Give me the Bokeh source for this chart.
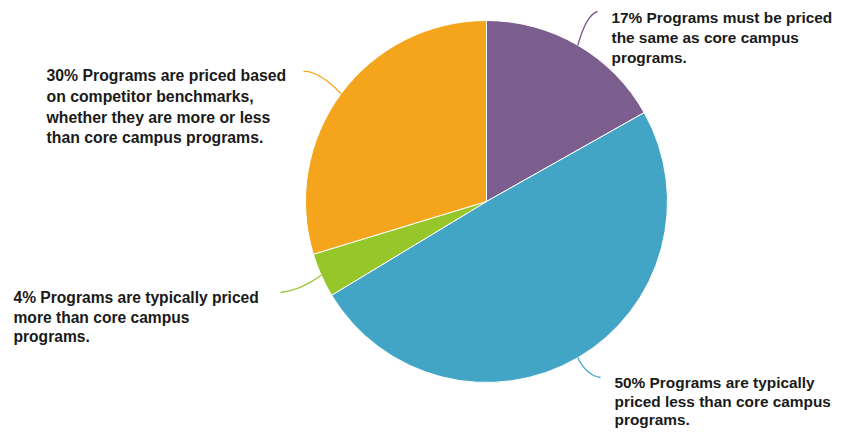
import math
from bokeh.plotting import figure
from bokeh.models import Range1d
from bokeh.core.properties import value
from bokeh.embed import file_html
from bokeh.resources import INLINE

# ---- data ----
categories = ["must be priced same", "priced less", "priced more", "competitor benchmarks"]
percents = [17, 50, 4, 30]
colors = ["#7B5E8E", "#42A5C5", "#95C72A", "#F5A51C"]
label_lines = [
    ["17% Programs must be priced", "the same as core campus", "programs."],
    ["50% Programs are typically", "priced less than core campus", "programs."],
    ["4% Programs are typically priced", "more than core campus", "programs."],
    ["30% Programs are priced based", "on competitor benchmarks,", "whether they are more or less", "than core campus programs."],
]

# ---- layout (screen-pixel coordinates, y measured from top of image) ----
W, H = 838, 428
cx_img, cy_img, R = 486, 201, 181
label_pos = [(611, 17), (614, 382), (13, 297), (46, 75)]
line_gap = [20, 18.5, 19.5, 20.8]
leader_end = [(597, 11), (600, 377), (280, 292), (303, 71)]
leader_ctrl = [(586, 14), (586, 375), (300, 290), (318, 70)]
font_px = ["15.4px", "15.4px", "15.6px", "15.8px"]

def Y(y_img):
    return H - y_img

p = figure(width=W, height=H, output_backend="svg", toolbar_location=None,
           x_range=Range1d(0, W), y_range=Range1d(0, H),
           min_border=0)
p.axis.visible = False
p.grid.visible = False
p.outline_line_color = None
p.background_fill_color = "white"

total = float(sum(percents))
cum = 0.0
for i, pct in enumerate(percents):
    frac0 = cum / total
    cum += pct
    frac1 = cum / total
    a0 = math.pi / 2 - frac0 * 2 * math.pi
    a1 = math.pi / 2 - frac1 * 2 * math.pi
    p.wedge(x=cx_img, y=Y(cy_img), radius=R, start_angle=a0, end_angle=a1,
            direction="clock", fill_color=colors[i], line_color="white", line_width=1)
    # leader line from slice mid-angle edge
    mid = (frac0 + frac1) / 2 * 2 * math.pi
    sx = cx_img + R * math.sin(mid)
    sy = cy_img - R * math.cos(mid)
    ex, ey = leader_end[i]
    qx, qy = leader_ctrl[i]
    p.quadratic(x0=sx, y0=Y(sy), x1=ex, y1=Y(ey), cx=qx, cy=Y(qy),
                line_color=colors[i], line_width=1.3)
    lx, ly = label_pos[i]
    lines = label_lines[i]
    p.text(x=[lx] * len(lines), y=[Y(ly + k * line_gap[i]) for k in range(len(lines))],
           text=lines, text_font=value("Liberation Sans"), text_font_style="bold",
           text_font_size=font_px[i], text_baseline="middle", text_align="left",
           text_color="#1a1a1a")

open("out.html", "w").write(file_html(p, INLINE))
